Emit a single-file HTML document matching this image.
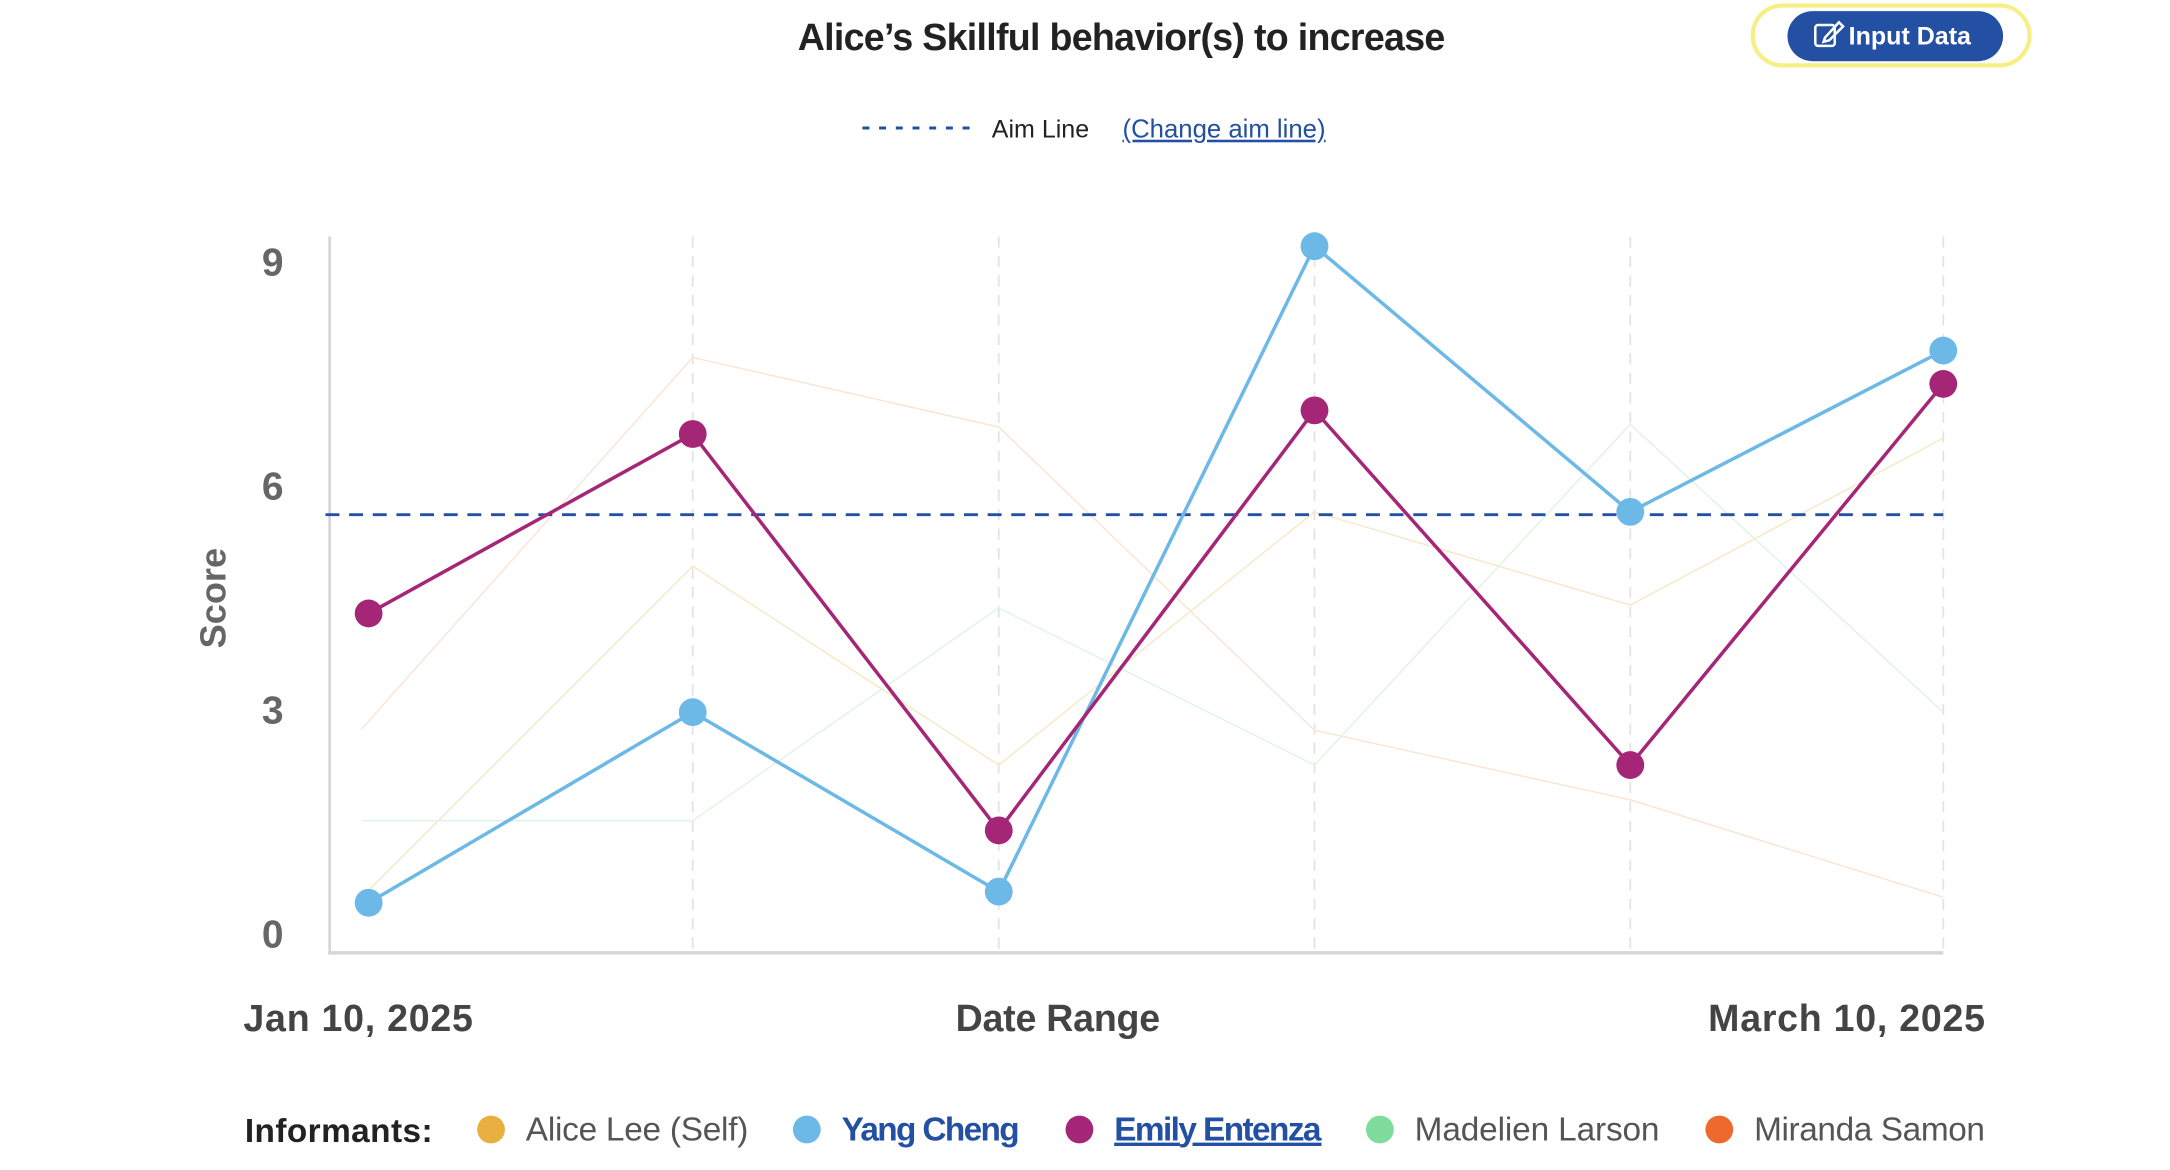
<!DOCTYPE html>
<html><head><meta charset="utf-8"><style>
html,body{margin:0;padding:0;background:#fff;}
svg{display:block;}
text{font-family:"Liberation Sans",Arial,sans-serif;}
</style></head><body>
<svg width="2170" height="1170" viewBox="0 0 1560 841.1" xmlns="http://www.w3.org/2000/svg">
<rect width="1560" height="841.1" fill="#fff"/>
<text x="806" y="36" text-anchor="middle" font-size="27" font-weight="bold" fill="#222" letter-spacing="-0.5">Alice’s Skillful behavior(s) to increase</text>
<rect x="1260" y="4" width="199" height="43" rx="21.5" fill="none" stroke="#f5ef86" stroke-width="3"/>
<rect x="1285" y="8" width="155" height="36" rx="18" fill="#2350a3"/>
<g stroke="#fff" stroke-width="1.8" fill="none"><rect x="1305" y="18" width="14" height="15" rx="2"/><path d="M1312 27 L1322 16 L1325 19 L1315 29 L1311 30 Z"/></g>
<text x="1329" y="32" font-size="18" font-weight="bold" fill="#fff">Input Data</text>
<line x1="620" y1="92" x2="698" y2="92" stroke="#2350a3" stroke-width="2.2" stroke-dasharray="5,7"/>
<text x="713" y="99" font-size="18" fill="#222">Aim Line</text>
<text x="807" y="99" font-size="18.5" fill="#2350a3" text-decoration="underline">(Change aim line)</text>
<g stroke="#e4e4e4" stroke-width="1.3" stroke-dasharray="8,6">
<line x1="498" y1="170" x2="498" y2="685"/><line x1="718" y1="170" x2="718" y2="685"/><line x1="945" y1="170" x2="945" y2="685"/><line x1="1172" y1="170" x2="1172" y2="685"/><line x1="1397" y1="170" x2="1397" y2="685"/>
</g>
<line x1="237" y1="170" x2="237" y2="686" stroke="#d6d6d6" stroke-width="2"/>
<line x1="236" y1="685" x2="1397" y2="685" stroke="#d6d6d6" stroke-width="2.5"/>
<g font-size="28" font-weight="bold" fill="#666" text-anchor="middle">
<text x="196" y="198">9</text><text x="196" y="359">6</text><text x="196" y="520">3</text><text x="196" y="681">0</text>
</g>
<text transform="translate(162,430) rotate(-90)" text-anchor="middle" font-size="26" font-weight="bold" fill="#666">Score</text>
<g fill="none" stroke-width="1">
<polyline points="260,524 498,257 718,307 945,525 1172,575 1397,645" stroke="#fbe3d2"/>
<polyline points="265,640 498,407 718,550 945,368 1172,435 1397,315" stroke="#f8e7c6"/>
<polyline points="260,590 498,590 718,437 945,550 1172,305 1397,512" stroke="#ddf4e6"/>
</g>
<line x1="234" y1="370" x2="1397" y2="370" stroke="#2350a3" stroke-width="2" stroke-dasharray="10,7"/>
<polyline points="265,649 498,512 718,641 945,177 1172,368 1397,252" fill="none" stroke="#6cb8e6" stroke-width="2.5"/>
<polyline points="265,441 498,312 718,597 945,295 1172,550 1397,276" fill="none" stroke="#a52577" stroke-width="2.5"/>
<g fill="#6cb8e6"><circle cx="265" cy="649" r="10"/><circle cx="498" cy="512" r="10"/><circle cx="718" cy="641" r="10"/><circle cx="945" cy="177" r="10"/><circle cx="1172" cy="368" r="10"/><circle cx="1397" cy="252" r="10"/></g>
<g fill="#a52577"><circle cx="265" cy="441" r="10"/><circle cx="498" cy="312" r="10"/><circle cx="718" cy="597" r="10"/><circle cx="945" cy="295" r="10"/><circle cx="1172" cy="550" r="10"/><circle cx="1397" cy="276" r="10"/></g>
<g font-size="27" font-weight="bold" fill="#444">
<text x="175" y="741" textLength="165">Jan 10, 2025</text>
<text x="687" y="741" textLength="147">Date Range</text>
<text x="1228" y="741" textLength="199">March 10, 2025</text>
</g>
<g font-size="24">
<text x="176" y="821" font-weight="bold" fill="#222" textLength="135">Informants:</text>
<circle cx="353" cy="812" r="10" fill="#e8b040"/><text x="378" y="820" fill="#555" textLength="160">Alice Lee (Self)</text>
<circle cx="580" cy="812" r="10" fill="#6cb8e6"/><text x="605" y="820" fill="#2350a3" font-weight="bold" textLength="128">Yang Cheng</text>
<circle cx="776" cy="812" r="10" fill="#a52577"/><text x="801" y="820" fill="#2350a3" font-weight="bold" text-decoration="underline" textLength="149">Emily Entenza</text>
<circle cx="992" cy="812" r="10" fill="#7fdc9c"/><text x="1017" y="820" fill="#555" textLength="176">Madelien Larson</text>
<circle cx="1236" cy="812" r="10" fill="#ee6a2c"/><text x="1261" y="820" fill="#555" textLength="166">Miranda Samon</text>
</g>
</svg>
</body></html>
